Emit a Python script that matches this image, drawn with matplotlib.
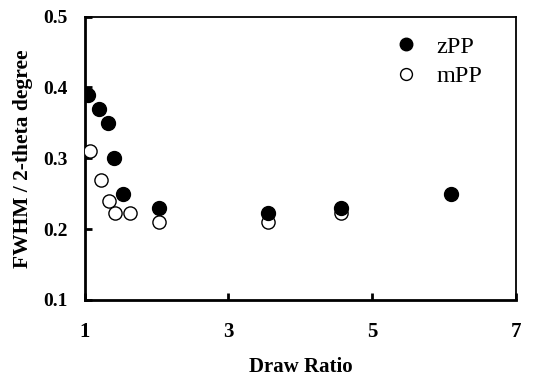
import matplotlib.pyplot as plt

# data
z_ratio = [1.05, 1.2, 1.32, 1.41, 1.53, 2.03, 3.55, 4.57, 6.1]
z_fwhm = [0.39, 0.37, 0.35, 0.30, 0.25, 0.23, 0.222, 0.23, 0.25]
m_ratio = [1.07, 1.22, 1.34, 1.42, 1.63, 2.03, 3.55, 4.57]
m_fwhm = [0.31, 0.27, 0.24, 0.222, 0.222, 0.21, 0.21, 0.222]
x_ticks = [1, 3, 5, 7]
y_ticks = [0.1, 0.2, 0.3, 0.4, 0.5]

plt.rcParams['font.family'] = ['Liberation Serif', 'DejaVu Serif']

fig = plt.figure(figsize=(5.33, 3.8), dpi=100)
ax = fig.add_axes([0.159, 0.211, 0.809, 0.745])

ax.plot(m_ratio, m_fwhm, 'o', ms=9.5, mfc='white', mec='black', mew=1.0,
        label='mPP', zorder=3)
ax.plot(z_ratio, z_fwhm, 'o', ms=10, mfc='black', mec='black',
        label='zPP', zorder=4)

ax.set_xlim(1, 7)
ax.set_ylim(0.1, 0.5)
ax.set_xticks(x_ticks)
ax.set_yticks(y_ticks)
ax.set_yticklabels(['%.1f' % v for v in y_ticks])

for s in ['left', 'bottom', 'top', 'right']:
    ax.spines[s].set_linewidth(2)
    ax.spines[s].set_color('black')
ax.spines['top'].set_linewidth(1.3)
ax.spines['right'].set_linewidth(1.3)

ax.tick_params(direction='in', length=5, width=2, top=False, right=False)
ax.tick_params(axis='x', pad=16, labelsize=15)
ax.tick_params(axis='y', pad=12, labelsize=14)
for lab in ax.get_xticklabels() + ax.get_yticklabels():
    lab.set_fontweight('bold')

ax.set_xlabel('Draw Ratio', fontsize=15, fontweight='bold', labelpad=11)
ax.set_ylabel('FWHM / 2-theta degree', fontsize=15.5, fontweight='bold', labelpad=7.5)

handles, labels = ax.get_legend_handles_labels()
ax.legend(handles[::-1], labels[::-1], loc='upper left', frameon=False,
          fontsize=17.5, bbox_to_anchor=(0.717, 0.932), borderpad=0,
          borderaxespad=0, handlelength=1.0, handletextpad=0.75,
          labelspacing=0.3, markerscale=0.9)

fig.savefig('out.png', dpi=100)
